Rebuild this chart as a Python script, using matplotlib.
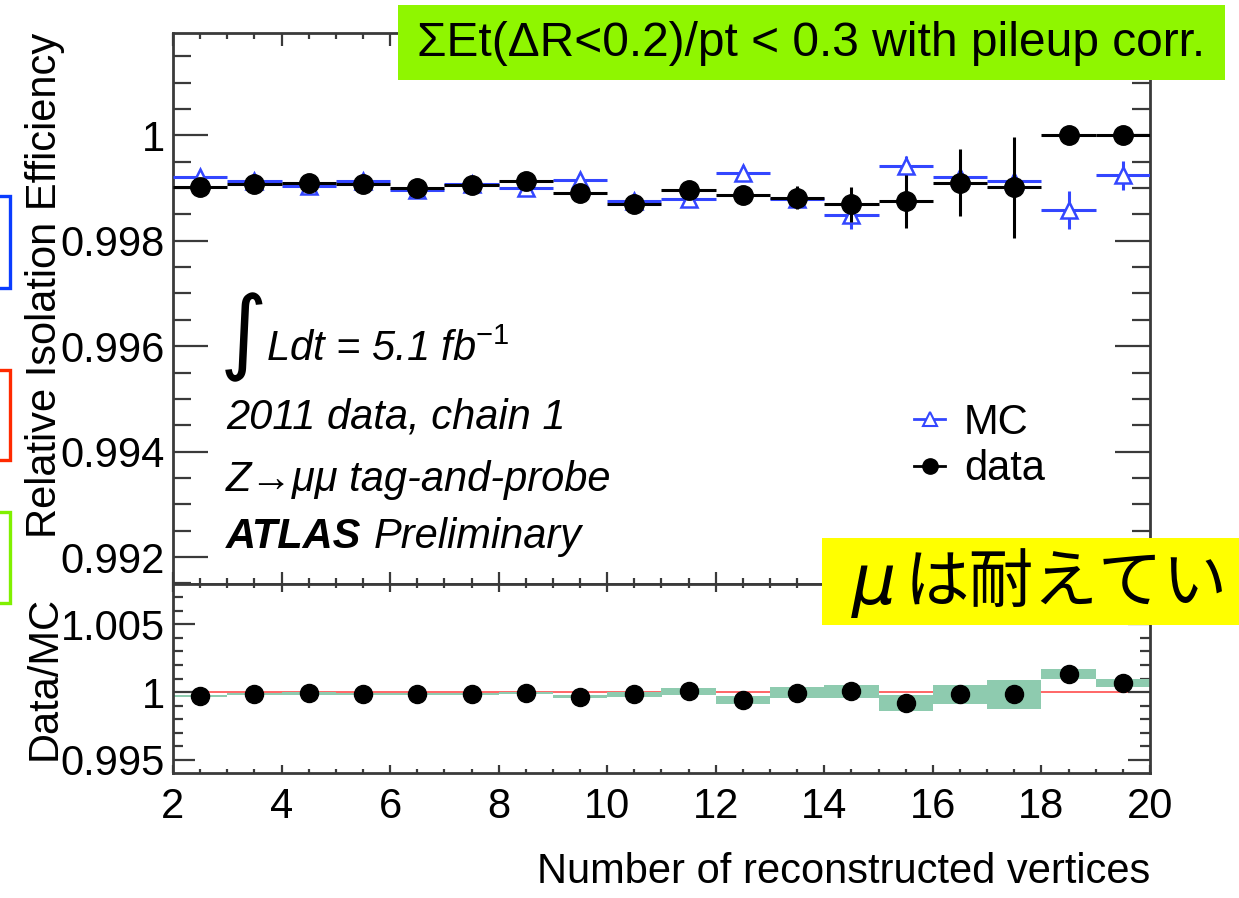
import matplotlib
matplotlib.use("Agg")
import matplotlib.pyplot as plt
from matplotlib.ticker import MultipleLocator, FuncFormatter
from matplotlib.lines import Line2D
from matplotlib.patches import Rectangle

plt.rcParams['font.family'] = ['Liberation Sans', 'DejaVu Sans']
plt.rcParams['mathtext.fontset'] = 'custom'
plt.rcParams['mathtext.rm'] = 'Liberation Sans'
plt.rcParams['mathtext.it'] = 'Liberation Sans:italic'

# ---- data: isolation efficiency vs number of reconstructed vertices ----
bin_centers = [2.5, 3.5, 4.5, 5.5, 6.5, 7.5, 8.5, 9.5, 10.5,
               11.5, 12.5, 13.5, 14.5, 15.5, 16.5, 17.5, 18.5, 19.5]
eff_data = [0.99901, 0.99907, 0.99910, 0.99908, 0.99900, 0.99905, 0.99913, 0.99890, 0.99869,
            0.99897, 0.99886, 0.99882, 0.99869, 0.99875, 0.99910, 0.99901, 1.00000, 1.00000]
eff_data_err = [0.00004, 0.00004, 0.00004, 0.00004, 0.00004, 0.00004, 0.00005, 0.00005, 0.00006,
                0.00008, 0.00010, 0.00022, 0.00033, 0.00050, 0.00064, 0.00096, 0.0, 0.0]
eff_mc = [0.99920, 0.99914, 0.99903, 0.99913, 0.99897, 0.99907, 0.99900, 0.99916, 0.99875,
          0.99880, 0.99929, 0.99880, 0.99848, 0.99941, 0.99920, 0.99914, 0.99858, 0.99924]
eff_mc_err = [0.00003, 0.00003, 0.00003, 0.00003, 0.00003, 0.00003, 0.00004, 0.00004, 0.00005,
              0.00012, 0.00015, 0.00012, 0.00025, 0.00020, 0.00010, 0.00010, 0.00036, 0.00027]
ratio = [0.99973, 0.99983, 0.99990, 0.99983, 0.99988, 0.99988, 0.99995, 0.99965, 0.99983,
         1.00007, 0.99941, 0.99995, 1.00007, 0.99921, 0.99983, 0.99983, 1.00133, 1.00069]
ratio_err = [0.00008, 0.00008, 0.00008, 0.00008, 0.00008, 0.00008, 0.00008, 0.00010, 0.00020,
             0.00025, 0.00028, 0.00040, 0.00047, 0.00060, 0.00070, 0.00106, 0.00040, 0.00030]
bin_width = 1.0

W, H = 1239, 898
fig = plt.figure(figsize=(W / 100, H / 100), dpi=100)
fig.patch.set_facecolor('white')


def fx(px):
    return px / W


def fy(py):
    return 1 - py / H


ax1 = fig.add_axes([fx(173), fy(584), fx(1150) - fx(173), fy(33) - fy(584)])
ax2 = fig.add_axes([fx(173), fy(773), fx(1150) - fx(173), fy(584) - fy(773)])

BLUE = '#3346ff'
FRAME = '#3a3a3a'
FS = 30

# ---- upper panel ----
ax1.errorbar(bin_centers, eff_mc, xerr=bin_width / 2, yerr=eff_mc_err, fmt='^',
             color=BLUE, mfc='white', mec=BLUE, mew=1.8, ms=12,
             elinewidth=2.2, capsize=0, zorder=3)
ax1.errorbar(bin_centers, eff_data, xerr=bin_width / 2, yerr=eff_data_err, fmt='o',
             color='black', ms=14, elinewidth=2.2, capsize=0, zorder=4)
ax1.set_xlim(2, 20)
ax1.set_ylim(0.99149, 1.00194)
ax1.yaxis.set_major_locator(MultipleLocator(0.002))
ax1.yaxis.set_minor_locator(MultipleLocator(0.0005))
ax1.xaxis.set_major_locator(MultipleLocator(2))
ax1.xaxis.set_minor_locator(MultipleLocator(0.5))
ax1.yaxis.set_major_formatter(FuncFormatter(lambda v, p: f'{v:g}'))
ax1.tick_params(axis='x', which='both', labelbottom=False)
ax1.tick_params(axis='both', which='both', direction='in', top=True, right=True,
                color=FRAME, width=1.6, labelsize=FS)
ax1.tick_params(axis='y', which='major', length=25, pad=6)
ax1.tick_params(axis='y', which='minor', length=13)
ax1.tick_params(axis='x', which='major', length=9)
ax1.tick_params(axis='x', which='minor', length=4.5)
ax1.set_ylabel('Relative Isolation Efficiency', fontsize=FS, loc='top')
ax1.yaxis.set_label_coords(-0.1105, 1.0)

# ---- ratio panel ----
ax2.axhline(1.0, color='#ff5a5a', lw=1.3, zorder=1)
ax2.bar(bin_centers, [2 * e for e in ratio_err],
        bottom=[r - e for r, e in zip(ratio, ratio_err)],
        width=bin_width, color='#8ecbaf', lw=0, zorder=2)
ax2.plot(bin_centers, ratio, 'o', color='black', ms=13, zorder=3)
ax2.set_xlim(2, 20)
ax2.set_ylim(0.99404, 1.00796)
ax2.yaxis.set_major_locator(MultipleLocator(0.005))
ax2.yaxis.set_minor_locator(MultipleLocator(0.001))
ax2.xaxis.set_major_locator(MultipleLocator(2))
ax2.xaxis.set_minor_locator(MultipleLocator(0.5))
ax2.yaxis.set_major_formatter(FuncFormatter(lambda v, p: f'{v:g}'))
ax2.tick_params(axis='both', which='both', direction='in', top=True, right=True,
                color=FRAME, width=1.6, labelsize=FS)
ax2.tick_params(axis='y', which='major', length=16, pad=6)
ax2.tick_params(axis='y', which='minor', length=7)
ax2.tick_params(axis='x', which='major', length=6, pad=10)
ax2.tick_params(axis='x', which='minor', length=3)
ax2.set_ylabel('Data/MC', fontsize=FS, loc='top')
ax2.yaxis.set_label_coords(-0.1105, 0.935)
ax2.set_xlabel('Number of reconstructed vertices', fontsize=FS, loc='right')
ax2.xaxis.set_label_coords(1.0, -0.42)

for ax in (ax1, ax2):
    for s in ax.spines.values():
        s.set_color(FRAME)
        s.set_linewidth(2)

# ---- legend ----
handles = [Line2D([], [], color=BLUE, marker='^', mfc='white', mec=BLUE, mew=1.5, ms=10, lw=2),
           Line2D([], [], color='black', marker='o', ms=11, lw=2)]
leg = ax1.legend(handles, ['MC', 'data'], loc='center left',
                 bbox_to_anchor=(fx(914), fy(446)), bbox_transform=fig.transFigure,
                 frameon=False, fontsize=FS, handlelength=0.75, handletextpad=0.45,
                 labelspacing=0.15, borderpad=0, borderaxespad=0)

# ---- plot annotations ----
fig.text(fx(220), fy(337), '\u222b', fontsize=66, family='DejaVu Sans',
         ha='left', va='center')
fig.text(fx(266), fy(350), r'$Ldt$ = 5.1 fb$^{-1}$', fontsize=FS, style='italic',
         ha='left', va='center')
fig.text(fx(226), fy(418), '2011 data, chain 1', fontsize=FS, style='italic',
         ha='left', va='center')
fig.text(fx(226), fy(480), 'Z\u2192\u03bc\u03bc tag-and-probe', fontsize=FS,
         style='italic', ha='left', va='center')
t_atlas = fig.text(fx(226), fy(537), 'ATLAS', fontsize=FS, style='italic',
                   weight='bold', ha='left', va='center')
fig.canvas.draw()
bb = t_atlas.get_window_extent()
fig.text(bb.x1 / W + fx(12), fy(537), 'Preliminary', fontsize=FS, style='italic',
         ha='left', va='center')

# ---- overlay boxes ----
fig.add_artist(Rectangle((fx(398), fy(80)), fx(1225) - fx(398), fy(5) - fy(80),
                         transform=fig.transFigure, fc='#8ff600', ec='none', zorder=10))
fig.text(fx(811), fy(43), '\u03a3Et(\u0394R<0.2)/pt < 0.3 with pileup corr.', fontsize=34.5,
         ha='center', va='center', zorder=11)

fig.add_artist(Rectangle((fx(822), fy(625)), fx(1300) - fx(822), fy(538) - fy(625),
                         transform=fig.transFigure, fc='#ffff00', ec='none', zorder=10))
fig.text(fx(852), fy(584), '\u03bc', fontsize=50, style='italic',
         family=['DejaVu Sans'], ha='left', va='center', zorder=11)
fig.text(fx(905), fy(584), 'は耐えてい', fontsize=46.5,
         family=['Noto Sans CJK JP', 'DejaVu Sans'], ha='left', va='center', zorder=11)

for y0, y1, col in [(196, 288, '#0a3cff'), (370, 460, '#ff2a00'), (512, 603, '#80f000')]:
    fig.add_artist(Rectangle((fx(-20), fy(y1)), fx(30), fy(y0) - fy(y1),
                             transform=fig.transFigure, fc='none', ec=col, lw=2.4, zorder=10))

fig.savefig('out.png', dpi=100)
